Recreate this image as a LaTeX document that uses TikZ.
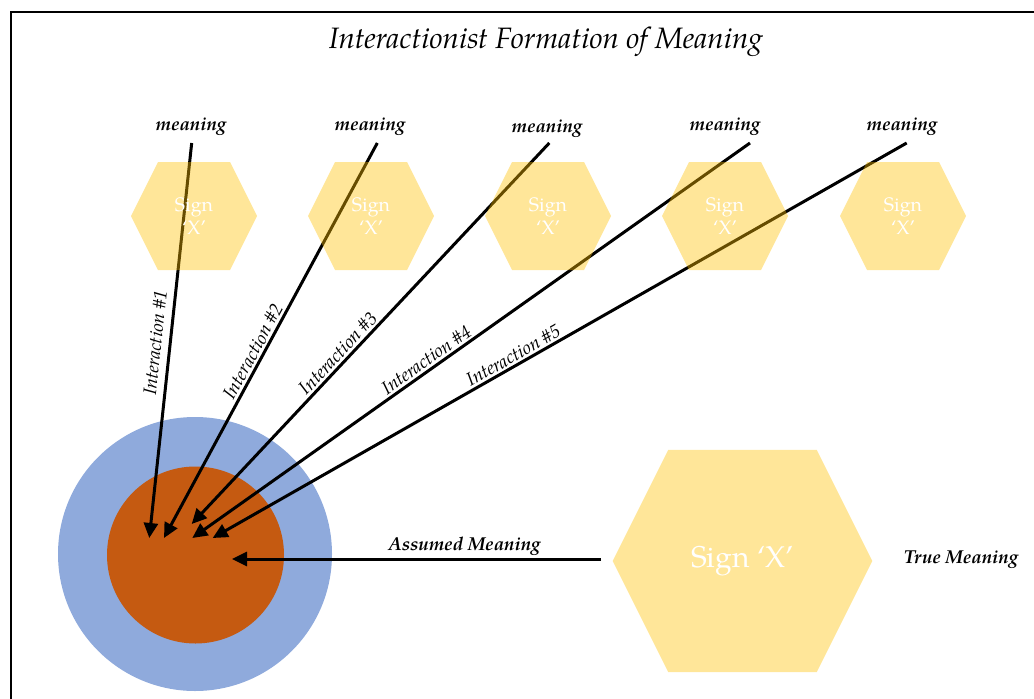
\documentclass[tikz,border=0pt]{standalone}
\usepackage{fontspec}
\setmainfont{TeX Gyre Pagella}
\usepackage{xcolor}
\definecolor{colorSign}{HTML}{FFC000}
\definecolor{colorOuter}{HTML}{8FAADC}
\definecolor{colorInner}{HTML}{C55A11}
\usetikzlibrary{arrows.meta, calc}
\tikzset{
  meaning/.style={font=\fontsize{18.7}{22}\selectfont\bfseries\itshape},
  interaction/.style={font=\fontsize{18.5}{22}\selectfont\itshape, sloped, above, inner sep=2pt},
  signtext/.style={text=white, align=center, font=\fontsize{19.5}{23}\selectfont},
  hexfill/.style={fill=colorSign, fill opacity=0.4},
}
% hexagon round a coordinate, #2 = size factor
\newcommand{\signhex}[2]{\fill[hexfill] ($(#1)+(-63*#2,0)$) -- ++(27*#2,-54*#2) -- ++(72*#2,0) -- ++(27*#2,54*#2) -- ++(-27*#2,54*#2) -- ++(-72*#2,0) -- cycle;}

\begin{document}
\begin{tikzpicture}[x=1pt, y=-1pt, line width=3pt, >={Triangle[length=15pt, width=14pt]}]
\clip (0,0) rectangle (1034,699);
\draw[line width=2pt] (11,12) rectangle (1060,730);
\node (title) at (546,42) {\fontsize{29.5}{32}\selectfont\itshape Interactionist Formation of Meaning};
% self
\node[circle, fill=colorOuter, minimum size=274pt, inner sep=0pt] (outer) at (195,554) {};
\node[circle, fill=colorInner, minimum size=177pt, inner sep=0pt] (inner) at (195.5,555) {};
% meanings and interactions
\node[meaning] (m1) at (191,127) {meaning};
\node[meaning] (m2) at (370,127) {meaning};
\node[meaning] (m3) at (547,129) {meaning};
\node[meaning] (m4) at (725,127) {meaning};
\node[meaning] (m5) at (902,127) {meaning};
\coordinate (s1) at (191.7,143); \coordinate (t1) at (149.3,538);
\coordinate (s2) at (377.3,143); \coordinate (t2) at (164,538);
\coordinate (s3) at (549.3,143); \coordinate (t3) at (191.7,524);
\coordinate (s4) at (750,143); \coordinate (t4) at (192.3,538);
\coordinate (s5) at (906.7,143); \coordinate (t5) at (212.7,538);
\draw[->] (s1) -- (t1) node[interaction, pos=0.51, inner sep=7pt] {Interaction \#1};
\draw[->] (s2) -- (t2) node[interaction, pos=0.54] {Interaction \#2};
\draw[->] (s3) -- (t3) node[interaction, pos=0.57] {Interaction \#3};
\draw[->] (s4) -- (t4) node[interaction, pos=0.57] {Interaction \#4};
\draw[->] (s5) -- (t5) node[interaction, pos=0.56] {Interaction \#5};
\coordinate (am) at (601,559); \coordinate (tam) at (232,559);
\draw[->] (am) -- (tam) node[meaning, above, pos=0.37, inner sep=2pt] {Assumed Meaning};
% signs
\foreach \i/\x in {1/194, 2/371, 3/548, 4/725, 5/903} {
  \coordinate (c\i) at (\x,216);
  \signhex{c\i}{1}
  \node[signtext] (sign\i) at (c\i) {Sign\\`X'};
}
\coordinate (cbig) at (742.5,561);
\signhex{cbig}{2.06}
\node[signtext, font=\fontsize{30}{34}\selectfont] (bigsign) at (cbig) {Sign `X'};
\node[meaning] (true) at (961,560) {True Meaning};
\end{tikzpicture}
\end{document}
